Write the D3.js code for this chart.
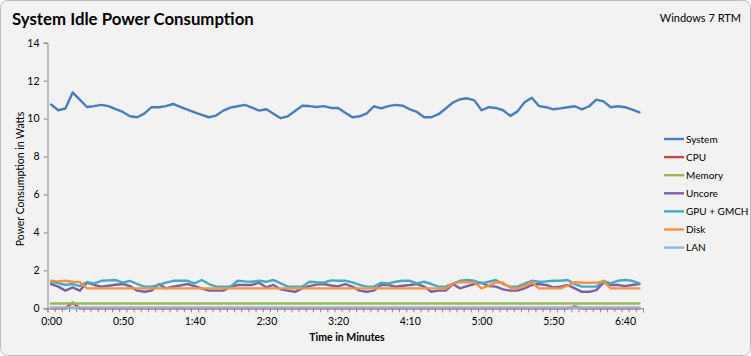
<!DOCTYPE html>
<html><head><meta charset="utf-8">
<script src="https://cdn.jsdelivr.net/npm/d3@7"></script>
<style>
html,body{margin:0;padding:0;background:#fff;}
svg{display:block;font-family:Lato,"Open Sans",sans-serif;}
</style></head>
<body>
<svg id="c" width="751" height="356"></svg>
<script>
const seconds = [0,5,10,15,20,25,30,35,40,45,50,55,60,65,70,75,80,85,90,95,100,105,110,115,120,125,130,135,140,145,150,155,160,165,170,175,180,185,190,195,200,205,210,215,220,225,230,235,240,245,250,255,260,265,270,275,280,285,290,295,300,305,310,315,320,325,330,335,340,345,350,355,360,365,370,375,380,385,390,395,400,405,410];
const xTickLabels = ["0:00","0:50","1:40","2:30","3:20","4:10","5:00","5:50","6:40"];
const yTicks = [0,2,4,6,8,10,12,14];
const seriesNames = ["System","CPU","Memory","Uncore","GPU + GMCH","Disk","LAN"];
const seriesColors = ["#4A7EBB","#BE4B48","#98B954","#7D60A0","#46AAC5","#F69240","#98B4DA"];

const system = [10.74,10.44,10.53,11.38,11.0,10.61,10.66,10.72,10.66,10.5,10.35,10.12,10.07,10.26,10.6,10.6,10.66,10.77,10.62,10.47,10.33,10.2,10.07,10.16,10.42,10.58,10.65,10.72,10.58,10.42,10.49,10.25,10.02,10.12,10.4,10.68,10.66,10.61,10.66,10.56,10.56,10.31,10.07,10.12,10.28,10.65,10.54,10.66,10.72,10.68,10.49,10.35,10.07,10.07,10.23,10.53,10.84,11.02,11.07,10.96,10.44,10.6,10.56,10.44,10.14,10.38,10.86,11.1,10.66,10.6,10.49,10.54,10.6,10.65,10.49,10.65,11.0,10.91,10.6,10.65,10.6,10.47,10.33];
const cpu = [0,0,0,0.3,0,0,0,0,0,0,0,0,0,0,0,0,0,0,0,0,0,0,0,0,0,0,0,0,0,0,0,0,0,0,0,0,0,0,0,0,0,0,0,0,0,0,0,0,0,0,0,0,0,0,0,0,0,0,0,0,0,0,0,0,0,0,0,0,0,0,0,0,0,0.1,0,0,0,0,0,0,0,0,0];
const memory = [0.25,0.25,0.25,0.25,0.25,0.25,0.25,0.25,0.25,0.25,0.25,0.25,0.25,0.25,0.25,0.25,0.25,0.25,0.25,0.25,0.25,0.25,0.25,0.25,0.25,0.25,0.25,0.25,0.25,0.25,0.25,0.25,0.25,0.25,0.25,0.25,0.25,0.25,0.25,0.25,0.25,0.25,0.25,0.25,0.25,0.25,0.25,0.25,0.25,0.25,0.25,0.25,0.25,0.25,0.25,0.25,0.25,0.25,0.25,0.25,0.25,0.25,0.25,0.25,0.25,0.25,0.25,0.25,0.25,0.25,0.25,0.25,0.25,0.25,0.25,0.25,0.25,0.25,0.25,0.25,0.25,0.25,0.25];
const uncore = [1.28,1.14,0.93,1.1,0.93,1.35,1.23,1.14,1.19,1.24,1.28,1.17,0.93,0.87,0.93,1.28,1.05,1.14,1.2,1.28,1.17,1.05,0.93,0.93,0.93,1.14,1.23,1.23,1.23,1.35,1.1,1.23,1.0,0.93,0.87,1.05,1.17,1.25,1.28,1.2,1.15,1.28,1.14,0.93,0.87,0.93,1.23,1.23,1.14,1.19,1.23,1.28,1.14,0.87,0.93,0.93,1.28,1.05,1.17,1.28,1.35,1.17,1.14,1.0,0.93,0.93,1.05,1.23,1.28,1.23,1.1,1.14,1.23,1.05,0.87,0.87,0.96,1.35,1.23,1.23,1.17,1.23,1.28];
const gpu = [1.4,1.33,1.23,1.28,1.17,1.38,1.31,1.45,1.47,1.49,1.35,1.45,1.28,1.14,1.14,1.23,1.35,1.45,1.45,1.45,1.31,1.49,1.28,1.14,1.14,1.14,1.45,1.42,1.4,1.45,1.4,1.49,1.31,1.14,1.14,1.14,1.4,1.37,1.35,1.47,1.45,1.45,1.37,1.23,1.14,1.14,1.35,1.31,1.4,1.45,1.45,1.31,1.4,1.28,1.14,1.14,1.3,1.45,1.49,1.45,1.31,1.4,1.49,1.28,1.14,1.14,1.3,1.45,1.4,1.42,1.45,1.45,1.49,1.28,1.14,1.14,1.14,1.45,1.31,1.45,1.49,1.45,1.31];
const disk = [1.45,1.42,1.45,1.4,1.38,1.05,1.05,1.05,1.05,1.05,1.05,1.05,1.05,1.05,1.05,1.05,1.05,1.05,1.05,1.05,1.05,1.05,1.05,1.05,1.05,1.05,1.05,1.05,1.05,1.05,1.05,1.05,1.05,1.05,1.05,1.05,1.05,1.05,1.05,1.05,1.05,1.05,1.05,1.05,1.05,1.05,1.05,1.05,1.05,1.05,1.05,1.05,1.05,1.05,1.05,1.05,1.3,1.38,1.37,1.37,1.05,1.2,1.37,1.35,1.08,1.05,1.2,1.37,1.05,1.05,1.05,1.05,1.2,1.38,1.35,1.35,1.35,1.42,1.05,1.05,1.05,1.05,1.05];
const lan = [0.04,0.04,0.04,0.04,0.04,0.04,0.04,0.04,0.04,0.04,0.04,0.04,0.04,0.04,0.04,0.04,0.04,0.04,0.04,0.04,0.04,0.04,0.04,0.04,0.04,0.04,0.04,0.04,0.04,0.04,0.04,0.04,0.04,0.04,0.04,0.04,0.04,0.04,0.04,0.04,0.04,0.04,0.04,0.04,0.04,0.04,0.04,0.04,0.04,0.04,0.04,0.04,0.04,0.04,0.04,0.04,0.04,0.04,0.04,0.04,0.04,0.04,0.04,0.04,0.04,0.04,0.04,0.04,0.04,0.04,0.04,0.04,0.04,0.04,0.04,0.04,0.04,0.04,0.04,0.04,0.04,0.04,0.04];

const allSeries = [system,cpu,memory,uncore,gpu,disk,lan];

const svg = d3.select("#c");
const W = 751, H = 356;
const plot = {left:47.5, right:643, top:42.7, bottom:308.3};

// background with rounded border
svg.append("rect").attr("x",0.5).attr("y",0.5).attr("width",W-1).attr("height",H-1)
  .attr("rx",7).attr("fill","#F2F2F2").attr("stroke","#BDBDBD");

// title
const title = svg.append("text").attr("x",12).attr("y",25)
  .attr("font-size",17).attr("font-weight","bold").attr("fill","#000")
  .text("System Idle Power Consumption");
const tl = title.node().getComputedTextLength();
title.attr("font-size", 17*242/tl);

svg.append("text").attr("x",741).attr("y",22).attr("text-anchor","end")
  .attr("font-size",11).attr("fill","#000").text("Windows 7 RTM");

const x = d3.scaleBand().domain(seconds).range([plot.left, plot.right]).padding(0);
const xc = d => x(d) + x.bandwidth()/2;
const xb = d3.scaleLinear().domain([0, seconds.length]).range([plot.left, plot.right]);
const y = d3.scaleLinear().domain([0,14]).range([plot.bottom, plot.top]);

// y axis
const yAxis = svg.append("g").attr("transform",`translate(${plot.left},0)`)
  .call(d3.axisLeft(y).tickValues(yTicks).tickSize(4).tickPadding(4).tickFormat(d3.format("d")));
yAxis.select(".domain").attr("stroke","#868686");
yAxis.selectAll(".tick line").attr("stroke","#868686");
yAxis.selectAll(".tick text").attr("font-size",10.5).attr("fill","#000").attr("font-family","Lato");

// x axis tick marks (between categories)
const xTickG = svg.append("g").attr("transform",`translate(0,${plot.bottom})`)
  .call(d3.axisBottom(xb).tickValues(d3.range(seconds.length+1)).tickSize(4).tickFormat(""));
xTickG.select(".domain").attr("stroke","#868686");
xTickG.selectAll(".tick line").attr("stroke","#868686");

// x labels
const labelSeconds = seconds.filter(s => s % 50 === 0);
const xLab = svg.append("g").attr("transform",`translate(0,${plot.bottom})`)
  .call(d3.axisBottom(d3.scalePoint().domain(labelSeconds).range([xc(labelSeconds[0]), xc(labelSeconds[labelSeconds.length-1])]))
     .tickSize(0).tickPadding(9).tickFormat((d,i)=>xTickLabels[i]));
xLab.select(".domain").remove();
xLab.selectAll(".tick text").attr("font-size",10.5).attr("fill","#000").attr("font-family","Lato");

// axis titles
svg.append("text").attr("x",347).attr("y",341).attr("text-anchor","middle")
  .attr("font-size",10.5).attr("font-weight","bold").attr("fill","#000").text("Time in Minutes");
svg.append("text").attr("transform","translate(24,179) rotate(-90)").attr("text-anchor","middle")
  .attr("font-size",10.5).attr("fill","#000").text("Power Consumption  in Watts");

// lines
const line = d3.line().x((d,i)=>xc(seconds[i])).y(d=>y(d));
const drawOrder = [0,1,2,3,4,5,6];
drawOrder.forEach(k => {
  svg.append("path").datum(allSeries[k]).attr("d", line)
    .attr("fill","none").attr("stroke",seriesColors[k]).attr("stroke-width",2.4)
    .attr("stroke-linejoin","round").attr("stroke-linecap","round");
});

// legend
const leg = svg.append("g");
seriesNames.forEach((n,i) => {
  const yy = 139 + i*18.1;
  leg.append("line").attr("x1",664).attr("x2",684).attr("y1",yy).attr("y2",yy)
    .attr("stroke",seriesColors[i]).attr("stroke-width",2.4);
  leg.append("text").attr("x",686).attr("y",yy+3.5).attr("font-size",10)
    .attr("fill","#000").text(n);
});
</script>
</body></html>
